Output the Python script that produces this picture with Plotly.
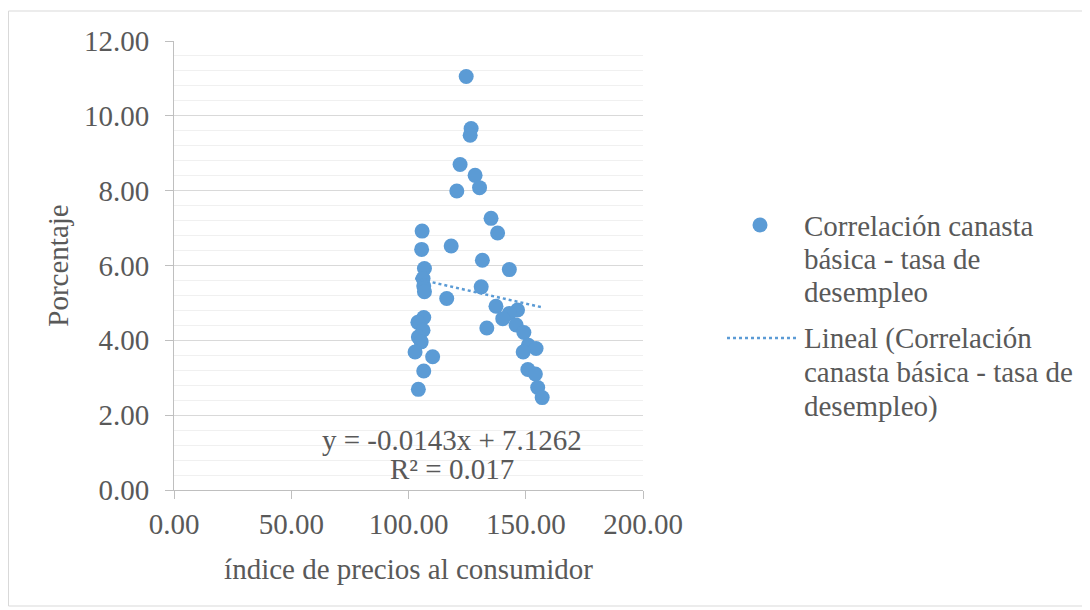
import plotly.graph_objects as go

# Data
ipc = [124.6, 126.7, 126.3, 122.0, 128.4, 120.6, 130.3, 135.2, 138.0, 105.8,
       118.2, 105.6, 131.5, 143.0, 106.8, 106.2, 106.5, 106.8, 131.0, 116.3,
       137.3, 146.5, 143.0, 140.2, 106.5, 104.0, 145.9, 133.4, 149.2, 106.2,
       104.2, 105.4, 151.1, 154.4, 102.8, 110.3, 148.9, 150.9, 154.1, 106.5,
       155.1, 157.0, 104.2]
desempleo = [11.05, 9.66, 9.48, 8.70, 8.41, 7.99, 8.08, 7.26, 6.87, 6.92,
             6.52, 6.43, 6.14, 5.89, 5.92, 5.65, 5.45, 5.30, 5.43, 5.12,
             4.91, 4.81, 4.72, 4.58, 4.61, 4.48, 4.41, 4.33, 4.21, 4.27,
             4.09, 3.96, 3.87, 3.78, 3.69, 3.56, 3.69, 3.22, 3.10, 3.18,
             2.74, 2.47, 2.69]
slope = -0.0143
intercept = 7.1262
r2 = 0.017
x_ticks = [0, 50, 100, 150, 200]
y_ticks = [0, 2, 4, 6, 8, 10, 12]
series_lines = ["Correlación canasta", "básica - tasa de", "desempleo"]
trend_lines = ["Lineal (Correlación", "canasta básica - tasa de", "desempleo)"]

blue = "#5b9bd5"
grey_text = "#595959"
font_family = "Liberation Serif"

xmin, xmax = min(ipc), max(ipc)
trend_x = [xmin, xmax]
trend_y = [slope * v + intercept for v in trend_x]

W, H = 1090, 610
L, R, T, B = 166, 1090 - 635, 33, 610 - 482
pw, ph = W - L - R, H - T - B
OFF = 8  # page body margin


def px(sx):
    return (sx - OFF - L) / pw


def py(sy):
    return (H - B - (sy - OFF)) / ph


fig = go.Figure()
fig.add_trace(go.Scatter(
    x=ipc, y=desempleo, mode="markers",
    name=" ".join(series_lines), showlegend=False,
    marker=dict(size=15, color=blue),
))
fig.add_trace(go.Scatter(
    x=trend_x, y=trend_y, mode="lines",
    name=" ".join(trend_lines), showlegend=False,
    line=dict(color=blue, width=2.5, dash="dot"),
))

txt_font = dict(size=29, color=grey_text, family=font_family)

# trendline label
fig.add_annotation(x=px(452), y=py(440), xref="paper", yref="paper",
                   text=f"y = {slope}x + {intercept}", showarrow=False,
                   font=txt_font, xanchor="center", yanchor="middle")
fig.add_annotation(x=px(452), y=py(469), xref="paper", yref="paper",
                   text=f"R² = {r2}", showarrow=False,
                   font=txt_font, xanchor="center", yanchor="middle")

# legend (drawn manually for the tight line spacing)
for i, t in enumerate(series_lines):
    fig.add_annotation(x=px(802), y=py(226 + 33 * i), xref="paper", yref="paper",
                       text=t, showarrow=False, font=txt_font,
                       xanchor="left", yanchor="middle")
for i, t in enumerate(trend_lines):
    fig.add_annotation(x=px(802), y=py(338 + 34 * i), xref="paper", yref="paper",
                       text=t, showarrow=False, font=txt_font,
                       xanchor="left", yanchor="middle")
fig.add_shape(type="circle", xref="paper", yref="paper",
              xsizemode="pixel", ysizemode="pixel",
              xanchor=px(760), yanchor=py(225),
              x0=-7.5, x1=7.5, y0=-7.5, y1=7.5,
              fillcolor=blue, line=dict(width=0))
fig.add_shape(type="line", xref="paper", yref="paper",
              x0=px(727), x1=px(798), y0=py(338), y1=py(338),
              line=dict(color=blue, width=2.5, dash="dot"))

# outer chart border
fig.add_shape(type="rect", xref="paper", yref="paper",
              x0=px(8.5), x1=px(1084), y0=py(606), y1=py(11),
              line=dict(color="#d9d9d9", width=1), layer="below")

fig.update_layout(
    width=W, height=H,
    margin=dict(l=L, r=R, t=T, b=B),
    paper_bgcolor="white", plot_bgcolor="white",
    font=dict(family=font_family, color=grey_text, size=29),
    showlegend=False,
)
fig.update_xaxes(
    range=[0, 200], tickvals=x_ticks, ticktext=[f"{v:.2f}" for v in x_ticks],
    showgrid=False, zeroline=False,
    showline=True, linecolor="#bfbfbf", linewidth=1,
    ticks="outside", ticklen=8, tickcolor="#bfbfbf",
    tickfont=dict(size=29, color=grey_text, family=font_family),
    title=dict(text="índice de precios al consumidor",
               font=dict(size=29, color=grey_text, family=font_family), standoff=19),
)
fig.update_yaxes(
    range=[0, 12], tickvals=y_ticks, ticktext=[f"{v:.2f}" for v in y_ticks],
    showgrid=True, gridcolor="#d9d9d9", gridwidth=1, zeroline=False,
    showline=True, linecolor="#bfbfbf", linewidth=1,
    ticks="outside", ticklen=8, tickcolor="#bfbfbf",
    ticklabelstandoff=10,
    tickfont=dict(size=29, color=grey_text, family=font_family),
    minor=dict(dtick=0.4, tick0=0, showgrid=True, gridcolor="#f0f0f0", gridwidth=1, ticks=""),
    title=dict(text="Porcentaje", font=dict(size=29, color=grey_text, family=font_family),
               standoff=6),
)

fig.write_html("out.html")
